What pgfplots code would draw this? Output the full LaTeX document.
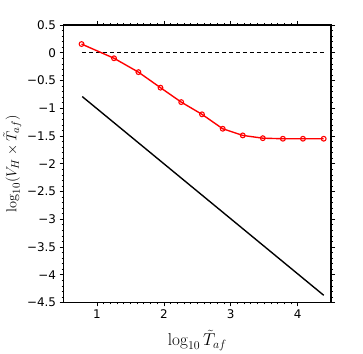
\documentclass[border=0pt]{standalone}
\usepackage{pgfplots}
\pgfplotsset{compat=1.18}
\usepackage[no-math]{fontspec}
\setmainfont{DejaVu Sans}
\begin{document}
\begin{tikzpicture}
\begin{axis}[
  scale only axis,
  width=268bp, height=278bp,
  xmin=0.5, xmax=4.5,
  ymin=-4.5, ymax=0.5,
  xtick={1,2,3,4},
  ytick={-4.5,-4,...,0.5},
  yticklabels={\textminus4.5,\textminus4,\textminus3.5,\textminus3,\textminus2.5,\textminus2,\textminus1.5,\textminus1,\textminus0.5,0,0.5},
  minor x tick num=9,
  minor y tick num=4,
  tick align=outside,
  tick pos=both,
  major tick length=4bp,
  minor tick length=2bp,
  axis line style={line width=1.3pt},
  every tick/.style={black, line width=0.6pt},
  tick label style={font=\fontsize{12}{14}\selectfont},
  /pgf/number format/assume math mode=true,
  xlabel={$\log_{10}\tilde{T}_{af}$},
  ylabel={$\log_{10}(V_H\times\tilde{T}_{af})$},
  xlabel style={font=\fontsize{18}{20}\selectfont, yshift=-4bp},
  ylabel style={font=\fontsize{15.5}{17}\selectfont, yshift=-1bp},
  clip=false,
]
\addplot[black, line width=1.1pt, dash pattern=on 4bp off 3bp] coordinates {(0.78,0) (4.40,0)};
\addplot[black, line width=1.4pt] coordinates {(0.78,-0.79) (4.39,-4.37)};
\addplot[red, line width=1.4pt, mark=o, mark size=2.4pt, mark options={line width=1.1pt}] coordinates {
  (0.77,0.156) (1.255,-0.10) (1.62,-0.35) (1.95,-0.63) (2.26,-0.89) (2.57,-1.11)
  (2.88,-1.37) (3.18,-1.49) (3.48,-1.54) (3.78,-1.55) (4.08,-1.55) (4.39,-1.55)
};
\end{axis}
\path[use as bounding box] ([xshift=-63bp,yshift=-51bp]current axis.south west) rectangle ([xshift=32bp,yshift=25bp]current axis.north east);
\end{tikzpicture}
\end{document}
